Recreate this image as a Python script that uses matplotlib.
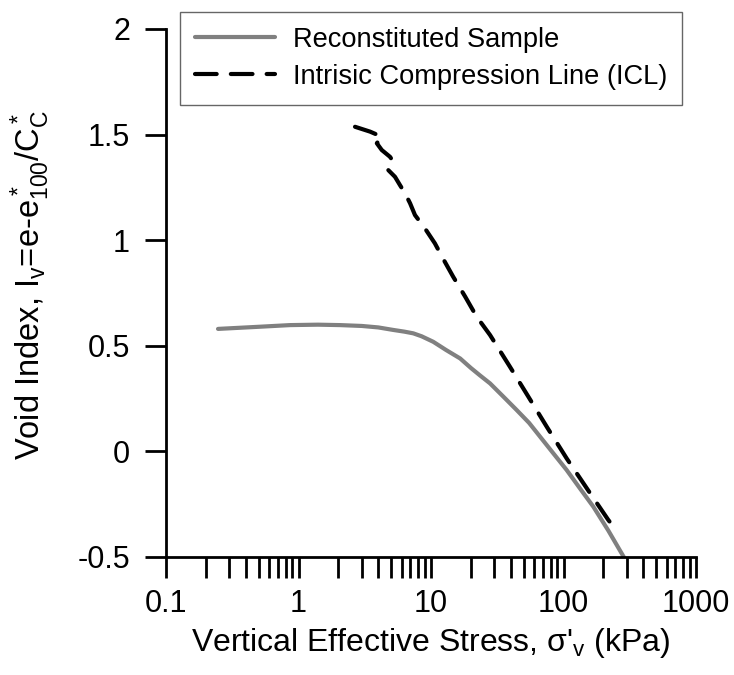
import numpy as np
import matplotlib.pyplot as plt
from matplotlib.ticker import FixedLocator, LogLocator, NullFormatter, FuncFormatter

plt.rcParams['font.family'] = ['Liberation Sans', 'DejaVu Sans']
plt.rcParams['mathtext.fontset'] = 'custom'
plt.rcParams['mathtext.rm'] = 'Liberation Sans'
plt.rcParams['mathtext.it'] = 'Liberation Sans'
plt.rcParams['axes.unicode_minus'] = False

# Reconstituted sample (gray solid line)
sample_stress = [0.247, 0.5, 0.863, 1.4, 2.06, 3.0, 4.0, 5.2, 6.3, 7.35, 8.5, 10.4, 13.0,
                 16.6, 20.0, 23.4, 27.9, 35.2, 44.3, 55.0, 66.5, 84.0, 105.6, 133.0, 168.0,
                 218.0, 285.0]
sample_iv = [0.580, 0.590, 0.598, 0.600, 0.598, 0.594, 0.587, 0.575, 0.567, 0.559, 0.545,
             0.519, 0.480, 0.440, 0.395, 0.360, 0.322, 0.259, 0.196, 0.135, 0.070, -0.010,
             -0.088, -0.175, -0.262, -0.375, -0.500]

# Intrinsic compression line (black dashed)
icl_stress = [2.67, 3.47, 4.25, 3.9, 4.25, 4.9, 5.2, 4.76, 5.35, 5.83, 6.37, 6.95, 7.57, 9.0,
              10.7, 12.3, 14.7, 18.1, 22.1, 27.9, 39.4, 54.3, 74.7, 105.6, 150.0, 218.0, 244.0]
icl_iv = [1.537, 1.514, 1.490, 1.459, 1.427, 1.395, 1.372, 1.332, 1.300, 1.261, 1.222, 1.175,
          1.119, 1.056, 0.985, 0.914, 0.827, 0.733, 0.638, 0.551, 0.401, 0.259, 0.117, -0.033,
          -0.175, -0.325, -0.364]

x_ticks = [0.1, 1, 10, 100, 1000]
y_ticks = [-0.5, 0, 0.5, 1, 1.5, 2]

fig = plt.figure(figsize=(7.34, 6.75), dpi=100)
ax = fig.add_axes([166 / 734, 1 - 557 / 675, 530 / 734, 528 / 675])

ax.plot(sample_stress, sample_iv, color='#808080', lw=3, solid_capstyle='round',
        label='Reconstituted Sample')
ax.plot(icl_stress, icl_iv, color='black', lw=3, dashes=(5.2, 3.4), dash_capstyle='round',
        label='Intrisic Compression Line (ICL)')

ax.set_xscale('log')
ax.set_xlim(0.1, 1000)
ax.set_ylim(-0.5, 2)
ax.xaxis.set_major_locator(FixedLocator(x_ticks))
ax.xaxis.set_minor_locator(LogLocator(base=10, subs=np.arange(2, 10)))
ax.xaxis.set_minor_formatter(NullFormatter())
ax.xaxis.set_major_formatter(FuncFormatter(lambda v, p: '{:g}'.format(v)))
ax.yaxis.set_major_locator(FixedLocator(y_ticks))
ax.yaxis.set_major_formatter(FuncFormatter(lambda v, p: '{:g}'.format(v)))

for s in ['top', 'right']:
    ax.spines[s].set_visible(False)
for s in ['left', 'bottom']:
    ax.spines[s].set_linewidth(2)
ax.tick_params(which='both', direction='out', length=15, width=2, labelsize=22)
ax.tick_params(axis='x', which='major', pad=8)
ax.tick_params(axis='y', which='major', pad=11)

ax.set_xlabel("Vertical Effective Stress, $\\sigma$'$_\\mathrm{v}$ (kPa)", fontsize=23, labelpad=5)
ax.set_ylabel('Void Index, I$_\\mathrm{v}$=e-e$^*_{\\mathrm{100}}$/C$^*_\\mathrm{C}$',
              fontsize=23.5)
ax.yaxis.set_label_coords(-0.215, 0.515)

leg = ax.legend(loc='upper left', bbox_to_anchor=(180 / 734, 1 - 12 / 675),
                bbox_transform=fig.transFigure, fontsize=19.6, frameon=True, fancybox=False,
                handlelength=2.95, handletextpad=0.64, borderpad=0.55, labelspacing=0.4,
                borderaxespad=0)
leg.get_frame().set_edgecolor('#404040')
leg.get_frame().set_linewidth(1)

fig.savefig('out.png', dpi=100)
